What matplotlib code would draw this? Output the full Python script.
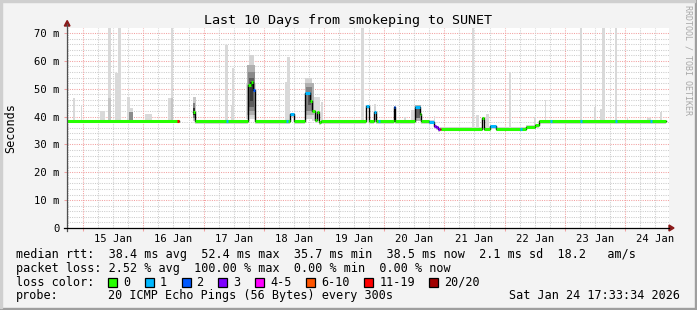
import matplotlib
matplotlib.use('Agg')
import matplotlib.pyplot as plt
import matplotlib.dates as mdates
from matplotlib.patches import Rectangle, Polygon
from matplotlib.lines import Line2D
import numpy as np
from datetime import datetime

plt.rcParams['font.family'] = 'DejaVu Sans Mono'

W, H = 697, 310
start = datetime(2026, 1, 14, 17, 33, 34)
end = datetime(2026, 1, 24, 17, 33, 34)

# median rtt as steps: hours after start, value in ms (nan = no data), loss bucket
med_h = [0, 44.8, 50.4, 51.2, 72.0, 73.2, 74.3, 75.0, 88.9, 90.3, 95.0, 96.7,
         97.7, 98.7, 99.0, 99.6, 100.4, 101.2, 119.3, 120.3, 122.4, 123.1,
         130.3, 130.9, 138.9, 140.7, 141.2, 144.3, 146.4, 147.1, 148.0, 148.7,
         149.2, 165.3, 166.3, 168.7, 171.1, 183.1, 186.4, 188.0, 239.0]
med_ms = [38.4, np.nan, 41.5, 38.4, 51.3, 52.4, 49.5, 38.4, 41.0, 38.4, 48.3,
          45.7, 42.1, 41.4, 38.6, 41.7, 38.0, 38.4, 43.8, 38.4, 41.8, 38.4,
          43.3, 38.4, 43.3, 40.8, 38.4, 38.2, 36.6, 36.1, 35.5, 35.7, 35.7,
          39.4, 35.7, 36.6, 35.7, 36.4, 37.0, 38.5, 38.5]
med_loss = [0, 0, 0, 0, 0, 0, 2, 0, 1, 0, 1, 0, 0, 0, 0, 0, 0, 0, 1, 0, 1, 0,
            2, 0, 1, 0, 0, 1, 3, 3, 3, 6, 0, 0, 0, 1, 0, 0, 0, 0, 0]

# short loss marks on the flat parts
mark_h = [44.0, 63.4, 87.4, 123.8, 180.4, 192.4, 204.4, 218.4, 232.4]
mark_loss = [6, 1, 1, 1, 1, 1, 1, 1, 1]

# smoke: start h, end h, low ms, high ms, grey
smoke_h0 = [2.5, 5.4, 13.1, 16.3, 16.3, 19.1, 20.5, 24.0, 24.7, 31.2, 40.4, 41.3,
            41.3, 62.9, 65.2, 65.6, 86.9, 87.6, 101.4, 117.3, 122.4, 134.5,
            137.3, 146.4, 161.3, 163.1, 167.1, 176.3, 186.3, 190.4, 204.4,
            210.0, 212.4, 213.2, 218.3, 223.1, 231.3, 236.4,
            24.8, 50.1, 50.3, 50.4,
            71.4, 72.6, 71.8, 72.2, 72.4, 72.8,
            94.8, 97.6, 95.0, 95.4, 96.0,
            138.6, 138.9]
smoke_h1 = [3.1, 6.0, 15.1, 17.6, 17.6, 20.5, 21.7, 25.2, 26.3, 34.0, 42.3, 42.4,
            42.4, 64.3, 66.0, 66.4, 87.6, 88.9, 102.0, 118.3, 123.1, 135.1,
            138.8, 146.9, 162.3, 164.3, 168.3, 176.9, 187.1, 191.1, 205.2,
            210.8, 213.2, 214.3, 219.1, 223.7, 232.7, 237.2,
            26.3, 51.3, 51.1, 51.0,
            75.4, 74.4, 75.0, 74.8, 74.6, 74.2,
            97.6, 100.8, 98.4, 97.8, 97.2,
            141.0, 140.6]
smoke_lo = [37.8, 37.8, 37.8, 37.8, 37.8, 37.8, 37.8, 37.8, 37.8, 37.8, 37.8, 37.8,
            37.8, 37.8, 37.8, 37.8, 37.8, 37.8, 37.8, 37.8, 37.8, 37.8,
            37.8, 35.5, 35.5, 35.5, 35.5, 35.5, 36.5, 37.8, 37.8,
            37.8, 37.8, 37.8, 37.8, 37.8, 37.8, 37.8,
            38.5, 38.5, 39.5, 40.5,
            39.0, 40.0, 40.5, 42.0, 43.5, 45.5,
            39.0, 38.5, 40.5, 42.0, 44.0,
            38.5, 39.5]
smoke_hi = [46.8, 44.0, 42.0, 73.0, 46.8, 55.6, 73.0, 47.0, 43.0, 41.0, 46.8, 73.0,
            46.8, 65.7, 44.0, 57.4, 52.5, 61.5, 45.3, 73.0, 44.4, 40.0,
            42.3, 40.2, 73.0, 40.6, 40.8, 56.1, 40.0, 45.9, 73.0,
            43.3, 42.7, 73.0, 73.0, 40.0, 39.5, 41.7,
            41.5, 47.0, 45.0, 43.0,
            52.0, 62.0, 58.5, 56.0, 54.0, 52.5,
            54.0, 47.0, 52.0, 50.5, 49.0,
            44.0, 43.0]
smoke_grey = ['#d9d9d9'] * 38 + ['#8c8c8c', '#c8c8c8', '#808080', '#303030',
                                 '#dadada', '#d4d4d4', '#b0b0b0', '#8a8a8a', '#5e5e5e', '#383838',
                                 '#d4d4d4', '#dcdcdc', '#b0b0b0', '#848484', '#585858',
                                 '#b0b0b0', '#606060']
smoke_grey[4] = '#c4c4c4'
smoke_grey[12] = '#c4c4c4'

loss_labels = ['0', '1', '2', '3', '4-5', '6-10', '11-19', '20/20']
loss_colors = ['#26ff00', '#00b8ff', '#0059ff', '#7e00ff', '#ff00ff',
               '#ff5500', '#ff0000', '#a10000']

y_ticks = [0, 10, 20, 30, 40, 50, 60, 70]
y_labels = ['0', '10 m', '20 m', '30 m', '40 m', '50 m', '60 m', '70 m']

rtt_line = 'median rtt:  38.4 ms avg  52.4 ms max  35.7 ms min  38.5 ms now  2.1 ms sd  18.2   am/s'
loss_line = 'packet loss: 2.52 % avg  100.00 % max  0.00 % min  0.00 % now'
probe_text = '20 ICMP Echo Pings (56 Bytes) every 300s'
stamp = 'Sat Jan 24 17:33:34 2026'


def fx(x):
    return x / W


def fy(y):
    return 1 - y / H


t0 = mdates.date2num(start)
t1 = mdates.date2num(end)


def at(h):
    return t0 + np.asarray(h, dtype=float) / 24.0


fig = plt.figure(figsize=(W / 100, H / 100), dpi=100, facecolor='#f3f3f3')
ax = fig.add_axes([fx(67), fy(228), (669 - 67) / W, 200 / H])
ax.set_facecolor('white')
ax.set_xlim(t0, t1)
ax.set_ylim(0, 71.8)
for s in ax.spines.values():
    s.set_visible(False)

# grid
dots = (0, (1, 1.2))
for v in np.arange(2, 72, 2):
    major = v % 10 == 0
    ax.axhline(v, color='#f2a0a0' if major else '#cccccc', lw=0.75,
               ls=dots, zorder=0.5)
six = np.arange(np.ceil(t0 * 4) / 4, t1, 0.25)   # every 6 hours
for v in six:
    major = abs(v - round(v)) < 1e-6
    ax.axvline(v, color='#f2a0a0' if major else '#cccccc', lw=0.75,
               ls=dots, zorder=0.5)

# smoke
ax.fill_between(at(med_h), np.array(med_ms) - 1.0, np.array(med_ms) + 0.4,
                step='post', color='#d4d4d4', lw=0, zorder=1)
for h0, h1, lo, hi, g in zip(smoke_h0, smoke_h1, smoke_lo, smoke_hi, smoke_grey):
    ax.bar(at(h0), hi - lo, width=(h1 - h0) / 24, bottom=lo, align='edge',
           color=g, linewidth=0, zorder=1.2)

# median line
ax.step(at(med_h), med_ms, where='post', color='black', lw=1.0, zorder=2)
for i in range(len(med_h) - 1):
    ax.hlines(med_ms[i], at(med_h[i]), at(med_h[i + 1]),
              color=loss_colors[med_loss[i]], lw=2.2, zorder=3)
for h, li in zip(mark_h, mark_loss):
    idx = np.searchsorted(med_h, h, side='right') - 1
    ax.hlines(med_ms[idx], at(h), at(h + 0.8), color=loss_colors[li], lw=2.2, zorder=3.5)

# ticks
ax.set_yticks(y_ticks)
ax.set_yticklabels(y_labels)
ax.tick_params(axis='y', length=2.2, width=0.75, color='#f2a0a0', pad=3,
               labelsize=7.6)
noons = np.arange(np.ceil(t0 - 0.5) + 0.5, t1, 1.0)
ax.set_xticks(noons)
ax.set_xticklabels([mdates.num2date(v).strftime('%d %b') for v in noons])
ax.set_xticks(np.arange(np.ceil(t0), t1, 1.0), minor=True)
ax.tick_params(axis='x', which='major', length=0, pad=4.5, labelsize=7.6)
ax.tick_params(axis='x', which='minor', length=2.5, width=0.75, color='#f2a0a0')

# axes with arrows
fig.add_artist(Line2D([fx(67), fx(67)], [fy(231), fy(24)], color='#505050', lw=0.9))
fig.add_artist(Line2D([fx(64), fx(669)], [fy(228), fy(228)], color='black', lw=0.9))
fig.add_artist(Polygon([[fx(64.3), fy(26)], [fx(70), fy(26)], [fx(67.2), fy(20.5)]],
                       closed=True, color='#8b1a1a', transform=fig.transFigure))
fig.add_artist(Polygon([[fx(669), fy(225)], [fx(669), fy(231)], [fx(674), fy(228)]],
                       closed=True, color='#8b1a1a', transform=fig.transFigure))

# texts
fig.text(fx(348), fy(24), 'Last 10 Days from smokeping to SUNET', ha='center',
         va='baseline', fontsize=9.6)
fig.text(fx(11), fy(128), 'Seconds', rotation=90, ha='center', va='center',
         fontsize=8.5)
fig.text(fx(688), fy(5), 'RRDTOOL / TOBI OETIKER', rotation=-90, ha='center',
         va='top', fontsize=6.0, color='#a8a8a8')

fs = 8.5
cw = 7.1
fig.text(fx(16), fy(257.7), rtt_line, ha='left', va='baseline', fontsize=fs)
fig.text(fx(16), fy(271.7), loss_line, ha='left', va='baseline', fontsize=fs)
fig.text(fx(16), fy(285.7), 'loss color:', ha='left', va='baseline', fontsize=fs)
bx = 108
for lab, col in zip(loss_labels, loss_colors):
    fig.add_artist(Rectangle((fx(bx), fy(287)), 9 / W, 9 / H, facecolor=col,
                             edgecolor='black', lw=0.9, transform=fig.transFigure))
    fig.text(fx(bx + 15), fy(285.7), lab, ha='left', va='baseline', fontsize=fs)
    bx = bx + 15 + len(lab) * cw + 14.7
fig.text(fx(16), fy(299.3), 'probe:', ha='left', va='baseline', fontsize=fs)
fig.text(fx(16 + 13 * cw), fy(299.3), probe_text, ha='left', va='baseline', fontsize=fs)
fig.text(fx(680), fy(299.3), stamp, ha='right', va='baseline', fontsize=fs)

# frame shading
fig.add_artist(Rectangle((0, 0), 1, 2 / H, color='#9e9e9e', transform=fig.transFigure))
fig.add_artist(Rectangle((1 - 2 / W, 0), 2 / W, 1, color='#9e9e9e', transform=fig.transFigure))
fig.add_artist(Rectangle((0, 2 / H), 2 / W, 1, color='#cfcfcf', transform=fig.transFigure))
fig.add_artist(Rectangle((0, 1 - 2 / H), 1 - 2 / W, 2 / H, color='#cfcfcf', transform=fig.transFigure))

fig.savefig('out.png', dpi=100, facecolor=fig.get_facecolor())
